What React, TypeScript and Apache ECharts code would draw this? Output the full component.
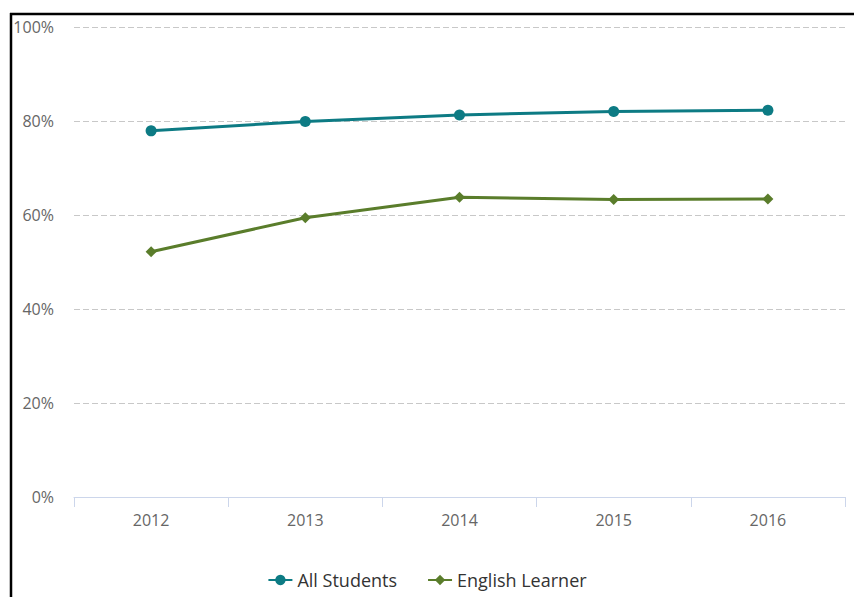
import React, { useEffect, useRef } from "react";
import * as echarts from "echarts";

const years = ["2012", "2013", "2014", "2015", "2016"];
const allStudents = [77.9, 79.9, 81.3, 82.0, 82.3];
const englishLearner = [52.2, 59.4, 63.8, 63.3, 63.4];
const yTicks = [0, 20, 40, 60, 80, 100];

export default function App() {
  const ref = useRef<HTMLDivElement>(null);
  useEffect(() => {
    document.body.style.margin = "0";
    const chart = echarts.init(ref.current!, undefined, { renderer: "svg" });
    const font = "'Open Sans', 'DejaVu Sans', sans-serif";
    chart.setOption({
      animation: false,
      backgroundColor: "#ffffff",
      textStyle: { fontFamily: font },
      grid: { left: 74, right: 9, top: 27, bottom: 100, containLabel: false },
      legend: {
        bottom: 3,
        left: "center",
        itemWidth: 24,
        itemHeight: 13,
        itemGap: 30,
        textStyle: { fontSize: 18, color: "#333333", fontFamily: font },
        data: ["All Students", "English Learner"],
      },
      xAxis: {
        type: "category",
        data: years,
        boundaryGap: true,
        axisLine: { lineStyle: { color: "#ccd6eb", width: 1 } },
        axisTick: { show: true, length: 10, lineStyle: { color: "#ccd6eb" } },
        axisLabel: { color: "#666666", fontSize: 16, margin: 15, fontFamily: font },
      },
      yAxis: {
        type: "value",
        min: yTicks[0],
        max: yTicks[yTicks.length - 1],
        interval: 20,
        axisLine: { show: false },
        axisTick: { show: false },
        axisLabel: {
          color: "#666666",
          fontSize: 16,
          margin: 20,
          fontFamily: font,
          formatter: (v: number) => v + "%",
        },
        splitLine: { lineStyle: { color: "#c8c8c8", type: [6, 3], width: 1 } },
      },
      series: [
        {
          name: "All Students",
          type: "line",
          data: allStudents,
          symbol: "circle",
          symbolSize: 11,
          color: "#0d7b84",
          lineStyle: { width: 3, color: "#0d7b84" },
          itemStyle: { color: "#0d7b84" },
        },
        {
          name: "English Learner",
          type: "line",
          data: englishLearner,
          symbol: "diamond",
          symbolSize: 11,
          color: "#5a7d2b",
          lineStyle: { width: 3, color: "#5a7d2b" },
          itemStyle: { color: "#5a7d2b" },
        },
      ],
      graphic: [
        { type: "line", shape: { x1: 10, y1: 14, x2: 854, y2: 14 }, style: { stroke: "#000", lineWidth: 2.5 } },
        { type: "line", shape: { x1: 11, y1: 13, x2: 11, y2: 597 }, style: { stroke: "#000", lineWidth: 2.5 } },
      ],
    });
    return () => chart.dispose();
  }, []);
  return <div ref={ref} style={{ width: 854, height: 597 }} />;
}
